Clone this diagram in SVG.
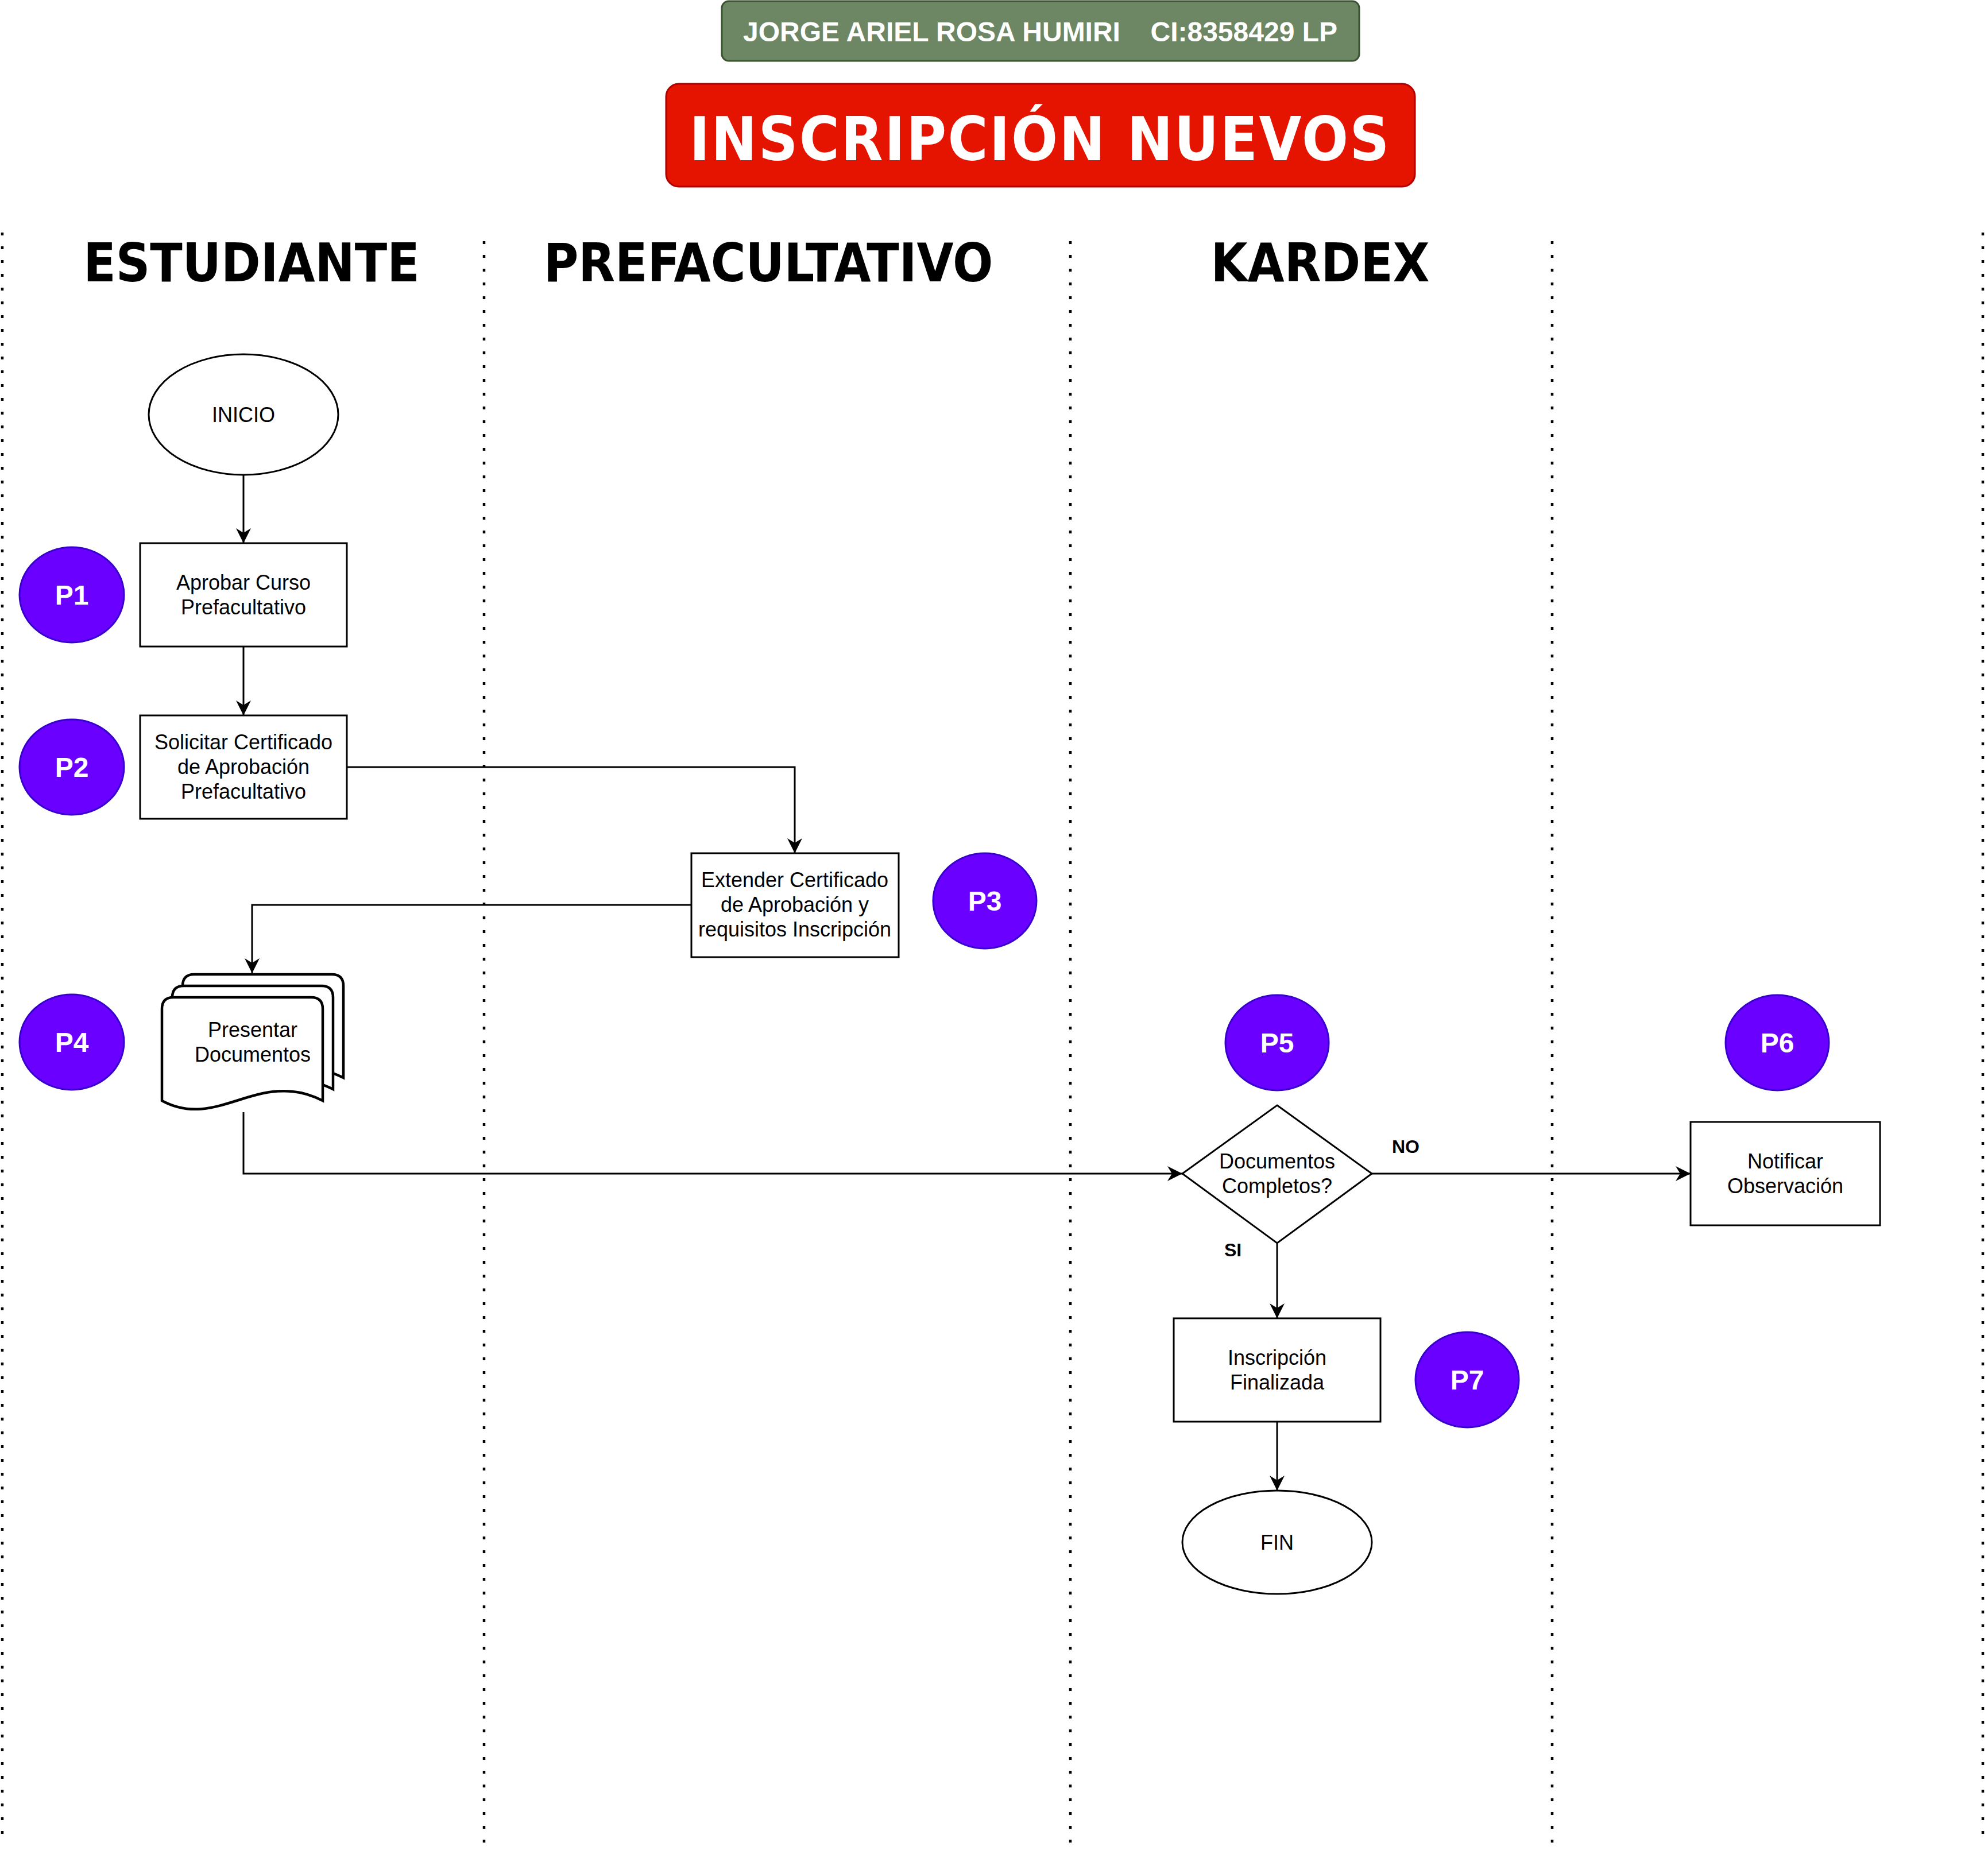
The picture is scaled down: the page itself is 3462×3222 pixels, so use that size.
<svg xmlns="http://www.w3.org/2000/svg" xmlns:xlink="http://www.w3.org/1999/xlink" width="3462" height="3222" viewBox="0 0 3462 3222">
<style>
.lane{stroke:#000;stroke-width:4.5;stroke-dasharray:5 19;fill:none}
.box{fill:#fff;stroke:#000;stroke-width:3}
.t{font-family:"Liberation Sans",Arial,sans-serif;font-size:36px;text-anchor:middle;fill:#000}
.hd{font-family:"DejaVu Sans Condensed","DejaVu Sans",sans-serif;font-stretch:condensed;font-weight:bold;font-size:92px;text-anchor:middle;fill:#000}
.p{fill:#6a00ff;stroke:#3700cc;stroke-width:3}
.pt{font-family:"Liberation Sans",Arial,sans-serif;font-weight:bold;font-size:48px;text-anchor:middle;fill:#fff}
.lbl{font-family:"Liberation Sans",Arial,sans-serif;font-weight:bold;font-size:32px;text-anchor:middle;fill:#000}
.con{fill:none;stroke:#000;stroke-width:3}
.doc{fill:#fff;stroke:#000;stroke-width:4.5}
</style>
<defs>
<marker id="arr" markerUnits="userSpaceOnUse" viewBox="-28 -14 28 28" markerWidth="28" markerHeight="28" refX="0" refY="0" orient="auto" overflow="visible">
<path d="M0,0 L-26,-13 L-18,0 L-26,13 Z" fill="#000"/>
</marker>
<path id="docshape" d="M0,20 Q0,0 20,0 L260,0 Q280,0 280,20 L280,180 C168,123 98,233 0,180 Z"/>
</defs>
<rect width="3462" height="3222" fill="#fff"/>

<g id="lanes">
<line class="lane" x1="4" y1="405" x2="4" y2="3200"/>
<line class="lane" x1="843" y1="420" x2="843" y2="3215"/>
<line class="lane" x1="1864" y1="420" x2="1864" y2="3215"/>
<line class="lane" x1="2703" y1="420" x2="2703" y2="3215"/>
<line class="lane" x1="3453" y1="405" x2="3453" y2="3200"/>
</g>

<g id="author">
<rect x="1257" y="2" width="1110" height="104" rx="12" fill="#6d8764" stroke="#3a5431" stroke-width="3"/>
<text x="1294" y="72" font-family="Liberation Sans,Arial,sans-serif" font-weight="bold" font-size="48" fill="#fff">JORGE ARIEL ROSA HUMIRI</text>
<text x="2329" y="72" font-family="Liberation Sans,Arial,sans-serif" font-weight="bold" font-size="48" fill="#fff" text-anchor="end">CI:8358429 LP</text>
</g>

<g id="title">
<rect x="1160" y="146" width="1304" height="179" rx="22" fill="#e51400" stroke="#b20000" stroke-width="3"/>
<text class="hd" x="1811" y="279" font-size="106" letter-spacing="2.5" fill="#fff" style="font-size:106px;fill:#fff">INSCRIPCIÓN NUEVOS</text>
</g>

<g id="headers">
<text class="hd" x="438" y="490">ESTUDIANTE</text>
<text class="hd" x="1338" y="490">PREFACULTATIVO</text>
<text class="hd" x="2299" y="490">KARDEX</text>
</g>

<g id="connectors">
<path class="con" d="M424,827 L424,946" marker-end="url(#arr)"/>
<path class="con" d="M424,1126 L424,1246" marker-end="url(#arr)"/>
<path class="con" d="M604,1336 L1384,1336 L1384,1486" marker-end="url(#arr)"/>
<path class="con" d="M1204,1576 L439,1576 L439,1695" marker-end="url(#arr)"/>
<path class="con" d="M424,1937 L424,2044 L2059,2044" marker-end="url(#arr)"/>
<path class="con" d="M2389,2044 L2944,2044" marker-end="url(#arr)"/>
<path class="con" d="M2224,2165 L2224,2296" marker-end="url(#arr)"/>
<path class="con" d="M2224,2476 L2224,2596" marker-end="url(#arr)"/>
<text class="lbl" x="2448" y="2008">NO</text>
<text class="lbl" x="2147" y="2188">SI</text>
</g>

<g id="inicio">
<ellipse cx="424" cy="722" rx="165" ry="105" class="box"/>
<text class="t" x="424" y="735">INICIO</text>
</g>

<g id="aprobar">
<rect class="box" x="244" y="946" width="360" height="180"/>
<text class="t" x="424" y="1027">Aprobar Curso</text>
<text class="t" x="424" y="1070">Prefacultativo</text>
</g>

<g id="solicitar">
<rect class="box" x="244" y="1246" width="360" height="180"/>
<text class="t" x="424" y="1305">Solicitar Certificado</text>
<text class="t" x="424" y="1348">de Aprobación</text>
<text class="t" x="424" y="1391">Prefacultativo</text>
</g>

<g id="extender">
<rect class="box" x="1204" y="1486" width="361" height="181"/>
<text class="t" x="1384" y="1545">Extender Certificado</text>
<text class="t" x="1384" y="1588">de Aprobación y</text>
<text class="t" x="1384" y="1631">requisitos Inscripción</text>
</g>

<g id="presentar">
<use xlink:href="#docshape" class="doc" transform="translate(318,1697)"/>
<use xlink:href="#docshape" class="doc" transform="translate(300,1717)"/>
<use xlink:href="#docshape" class="doc" transform="translate(282,1737)"/>
<text class="t" x="440" y="1806">Presentar</text>
<text class="t" x="440" y="1849">Documentos</text>
</g>

<g id="decision">
<polygon class="box" points="2224,1925 2389,2044 2224,2165 2059,2044"/>
<text class="t" x="2224" y="2035">Documentos</text>
<text class="t" x="2224" y="2078">Completos?</text>
</g>

<g id="notificar">
<rect class="box" x="2944" y="1954" width="330" height="180"/>
<text class="t" x="3109" y="2035">Notificar</text>
<text class="t" x="3109" y="2078">Observación</text>
</g>

<g id="inscripcion">
<rect class="box" x="2044" y="2296" width="360" height="180"/>
<text class="t" x="2224" y="2377">Inscripción</text>
<text class="t" x="2224" y="2420">Finalizada</text>
</g>

<g id="fin">
<ellipse class="box" cx="2224" cy="2686" rx="165" ry="90"/>
<text class="t" x="2224" y="2699">FIN</text>
</g>

<g id="p1"><ellipse class="p" cx="125" cy="1036" rx="91" ry="83"/><text class="pt" x="125" y="1053">P1</text></g>
<g id="p2"><ellipse class="p" cx="125" cy="1336" rx="91" ry="83"/><text class="pt" x="125" y="1353">P2</text></g>
<g id="p3"><ellipse class="p" cx="1715" cy="1569" rx="90" ry="83"/><text class="pt" x="1715" y="1586">P3</text></g>
<g id="p4"><ellipse class="p" cx="125" cy="1815" rx="91" ry="83"/><text class="pt" x="125" y="1832">P4</text></g>
<g id="p5"><ellipse class="p" cx="2224" cy="1816" rx="90" ry="83"/><text class="pt" x="2224" y="1833">P5</text></g>
<g id="p6"><ellipse class="p" cx="3095" cy="1816" rx="90" ry="83"/><text class="pt" x="3095" y="1833">P6</text></g>
<g id="p7"><ellipse class="p" cx="2555" cy="2403" rx="90" ry="83"/><text class="pt" x="2555" y="2420">P7</text></g>
</svg>
